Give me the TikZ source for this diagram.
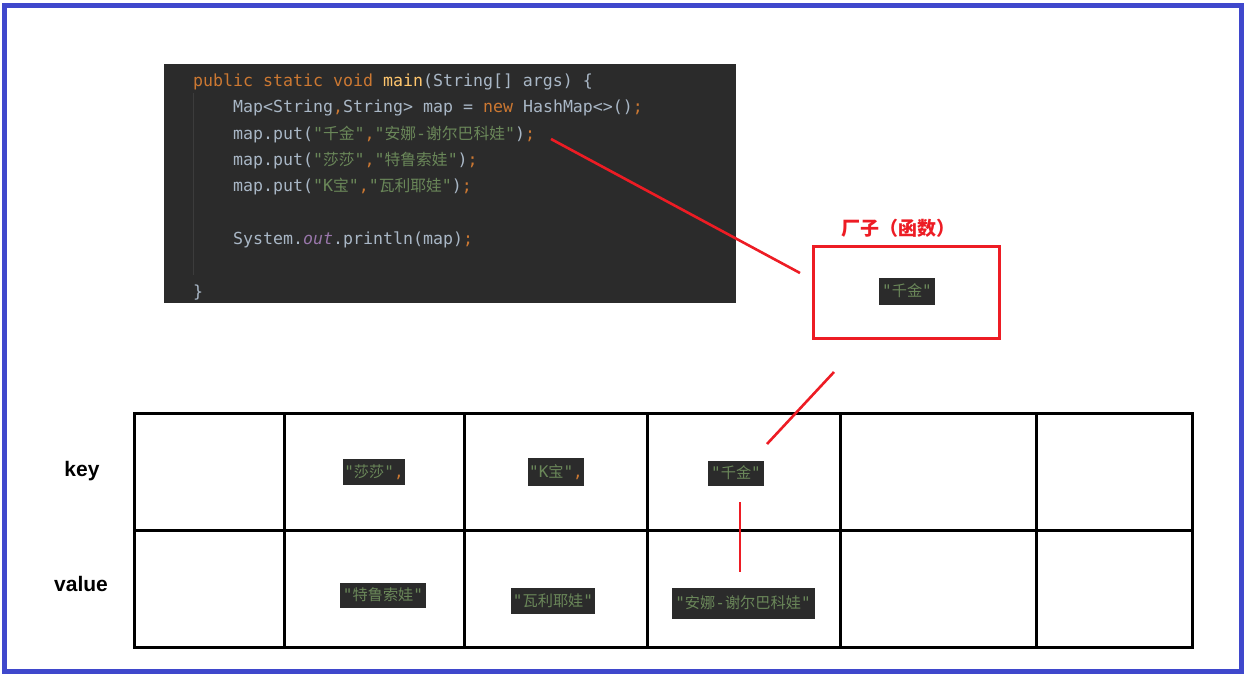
\documentclass[tikz,border=0pt]{standalone}
\usepackage{fontspec}
\setmainfont{Liberation Sans}
\newfontfamily\monof[Ligatures=TeXOff]{DejaVu Sans Mono}
\newfontfamily\cjk[Scale=0.95,Ligatures=TeXOff]{Noto Sans CJK SC}
\newfontfamily\cjkt{Noto Sans CJK SC}
\definecolor{bluec}{HTML}{3F48CC}
\definecolor{redc}{HTML}{ED1C24}
\definecolor{codebg}{HTML}{2B2B2B}
\definecolor{guidec}{HTML}{3C3C3C}
\definecolor{kwc}{HTML}{CC7832}
\definecolor{fnc}{HTML}{FFC66D}
\definecolor{txc}{HTML}{A9B7C6}
\definecolor{stc}{HTML}{6A8759}
\definecolor{puc}{HTML}{9876AA}
\newcommand\cj[1]{{\cjk #1}}
\newcommand\kw[1]{\textcolor{kwc}{#1}}
\newcommand\st[1]{\textcolor{stc}{#1}}
\tikzset{
  codeline/.style={anchor=base west, inner sep=0pt, text=txc, font=\monof\fontsize{16.6}{20}\selectfont},
  patch/.style={fill=codebg, inner sep=0pt, text=txc, font=\monof\fontsize{16}{20}\selectfont},
  redline/.style={draw=redc, line width=2.6pt},
  gridline/.style={draw=black, line width=3pt},
  rowlabel/.style={font=\bfseries\fontsize{21}{24}\selectfont, inner sep=0pt}
}
\begin{document}
\begin{tikzpicture}[x=1pt,y=-1pt]
\useasboundingbox (0,0) rectangle (1247,677);
\draw[draw=bluec, line width=5pt] (4.5,5.5) rectangle (1241.5,671);

% code block
\node[fill=codebg, minimum width=572pt, minimum height=239pt, anchor=north west, inner sep=0pt] (code) at (164,64) {};
\draw[draw=guidec, line width=1pt] (193,93) -- (193,275);
\node[codeline] (c1) at (193,86) {\kw{public static void }\textcolor{fnc}{main}(String[] args) \{};
\node[codeline] (c2) at (233,112) {Map<String\kw{,}String> map = \kw{new} HashMap<>()\kw{;}};
\node[codeline] (c3) at (233,139) {map.put(\st{"\cj{千金}"}\kw{,}\st{"\cj{安娜}-\cj{谢尔巴科娃}"})\kw{;}};
\node[codeline] (c4) at (233,165) {map.put(\st{"\cj{莎莎}"}\kw{,}\st{"\cj{特鲁索娃}"})\kw{;}};
\node[codeline] (c5) at (233,191) {map.put(\st{"K\cj{宝}"}\kw{,}\st{"\cj{瓦利耶娃}"})\kw{;}};
\node[codeline] (c6) at (233,244) {System.\textcolor{puc}{\itshape out}.println(map)\kw{;}};
\node[codeline] (c7) at (193,297) {\}};

% factory
\node[text=redc, font=\cjkt\bfseries\fontsize{19}{21}\selectfont, inner sep=0pt] (title) at (898,228) {厂子（函数）};
\node[draw=redc, line width=3pt, minimum width=186pt, minimum height=92pt, inner sep=0pt] (fac) at (906,292) {};
\node[patch, minimum width=56pt, minimum height=27pt] (p7) at (907,291) {\st{"\cj{千金}"}};

% table
\draw[gridline] (134,413) rectangle (1192,647);
\draw[gridline] (134,530) -- (1192,530);
\foreach \cx in {284,464,647,840,1036} {\draw[gridline] (\cx,413) -- (\cx,647);}
\node[rowlabel] (key) at (82,471) {key};
\node[rowlabel] (value) at (81,584) {value};

\node[patch, minimum width=62pt, minimum height=26pt] (p1) at (374,472) {\st{"\cj{莎莎}"}\kw{,}};
\node[patch, minimum width=56pt, minimum height=28pt] (p2) at (556,472) {\st{"K\cj{宝}"}\kw{,}};
\node[patch, minimum width=56pt, minimum height=25pt] (p3) at (736,473) {\st{"\cj{千金}"}};
\node[patch, minimum width=86pt, minimum height=25pt] (p4) at (383,595) {\st{"\cj{特鲁索娃}"}};
\node[patch, minimum width=84pt, minimum height=26pt] (p5) at (553,601) {\st{"\cj{瓦利耶娃}"}};
\node[patch, minimum width=143pt, minimum height=31pt] (p6) at (743,603) {\st{"\cj{安娜}-\cj{谢尔巴科娃}"}};

% connectors
\coordinate (l1s) at (551,139);
\coordinate (l1e) at (800,273);
\coordinate (l2s) at (834,372);
\coordinate (l2e) at (767,444);
\coordinate (v1) at (740,502);
\coordinate (v2) at (740,572);
\draw[redline] (l1s) -- (l1e);
\draw[redline] (l2s) -- (l2e);
\draw[redline] (v1) -- (v2);
\end{tikzpicture}
\end{document}
